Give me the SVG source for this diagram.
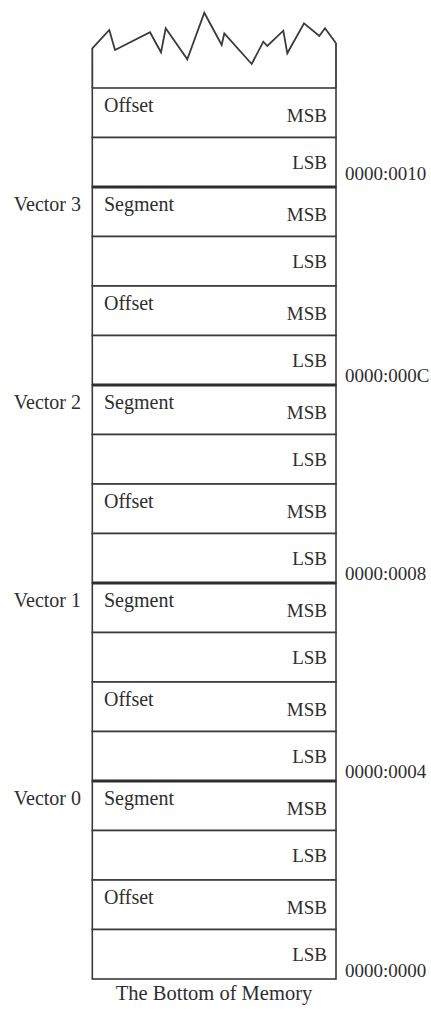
<svg xmlns="http://www.w3.org/2000/svg" width="431" height="1009" viewBox="0 0 431 1009">
<style>
text{font-family:"Liberation Serif","Times New Roman",serif;font-size:19px;fill:#2e2e2e}
.w{font-size:20px}
.cap{font-size:20.5px}
.cell{fill:#fff;stroke:#3a3a3a;stroke-width:1.6}
.sep{stroke:#2e2e2e;stroke-width:2.8}
.outline{fill:none;stroke:#3a3a3a;stroke-width:1.8;stroke-linejoin:miter}
.r{text-anchor:end}
.m{text-anchor:middle}
</style>
<rect width="431" height="1009" fill="#fff"/>
<g id="top">
<path class="outline" d="M92.3,88 V48.3 L109.3,30 L115,50 L150,32.3 L161,52.3 L165.7,28.3 L187.3,59.3 L204.3,12.7 L221.7,45 L224.3,33.3 L251.7,64 L263.3,41.7 L267.3,46 L283.3,30.7 L287.3,53.3 L304,23.3 L319.3,36 L325,28.3 L336,43.3 V88"/>
</g>
<g id="row0"><rect class="cell" x="92.3" y="88" width="243.7" height="49.5"/><text class="w" x="104" y="112">Offset</text><text class="r" x="327" y="122">MSB</text></g>
<g id="row1"><rect class="cell" x="92.3" y="137.5" width="243.7" height="49.5"/><text class="r" x="327" y="168.5">LSB</text></g>
<g id="row2"><rect class="cell" x="92.3" y="187" width="243.7" height="49.5"/><text class="w" x="104" y="211">Segment</text><text class="r" x="327" y="221">MSB</text></g>
<g id="row3"><rect class="cell" x="92.3" y="236.5" width="243.7" height="49.5"/><text class="r" x="327" y="267.5">LSB</text></g>
<g id="row4"><rect class="cell" x="92.3" y="286" width="243.7" height="49.5"/><text class="w" x="104" y="310">Offset</text><text class="r" x="327" y="320">MSB</text></g>
<g id="row5"><rect class="cell" x="92.3" y="335.5" width="243.7" height="49.5"/><text class="r" x="327" y="366.5">LSB</text></g>
<g id="row6"><rect class="cell" x="92.3" y="385" width="243.7" height="49.5"/><text class="w" x="104" y="409">Segment</text><text class="r" x="327" y="419">MSB</text></g>
<g id="row7"><rect class="cell" x="92.3" y="434.5" width="243.7" height="49.5"/><text class="r" x="327" y="465.5">LSB</text></g>
<g id="row8"><rect class="cell" x="92.3" y="484" width="243.7" height="49.5"/><text class="w" x="104" y="508">Offset</text><text class="r" x="327" y="518">MSB</text></g>
<g id="row9"><rect class="cell" x="92.3" y="533.5" width="243.7" height="49.5"/><text class="r" x="327" y="564.5">LSB</text></g>
<g id="row10"><rect class="cell" x="92.3" y="583" width="243.7" height="49.5"/><text class="w" x="104" y="607">Segment</text><text class="r" x="327" y="617">MSB</text></g>
<g id="row11"><rect class="cell" x="92.3" y="632.5" width="243.7" height="49.5"/><text class="r" x="327" y="663.5">LSB</text></g>
<g id="row12"><rect class="cell" x="92.3" y="682" width="243.7" height="49.5"/><text class="w" x="104" y="706">Offset</text><text class="r" x="327" y="716">MSB</text></g>
<g id="row13"><rect class="cell" x="92.3" y="731.5" width="243.7" height="49.5"/><text class="r" x="327" y="762.5">LSB</text></g>
<g id="row14"><rect class="cell" x="92.3" y="781" width="243.7" height="49.5"/><text class="w" x="104" y="805">Segment</text><text class="r" x="327" y="815">MSB</text></g>
<g id="row15"><rect class="cell" x="92.3" y="830.5" width="243.7" height="49.5"/><text class="r" x="327" y="861.5">LSB</text></g>
<g id="row16"><rect class="cell" x="92.3" y="880" width="243.7" height="49.5"/><text class="w" x="104" y="904">Offset</text><text class="r" x="327" y="914">MSB</text></g>
<g id="row17"><rect class="cell" x="92.3" y="929.5" width="243.7" height="49.5"/><text class="r" x="327" y="960.5">LSB</text></g>
<g id="separators">
<line class="sep" x1="92.3" y1="187" x2="336" y2="187"/>
<line class="sep" x1="92.3" y1="385" x2="336" y2="385"/>
<line class="sep" x1="92.3" y1="583" x2="336" y2="583"/>
<line class="sep" x1="92.3" y1="781" x2="336" y2="781"/>
</g>
<g id="vector-labels">
<text class="r w" x="81" y="211">Vector 3</text>
<text class="r w" x="81" y="409">Vector 2</text>
<text class="r w" x="81" y="607">Vector 1</text>
<text class="r w" x="81" y="805">Vector 0</text>
</g>
<g id="addresses">
<text x="345" y="180">0000:0010</text>
<text x="345" y="382">0000:000C</text>
<text x="345" y="580">0000:0008</text>
<text x="345" y="778">0000:0004</text>
<text x="345" y="977">0000:0000</text>
</g>
<g id="caption"><text class="m cap" x="214" y="1000">The Bottom of Memory</text></g>
</svg>
